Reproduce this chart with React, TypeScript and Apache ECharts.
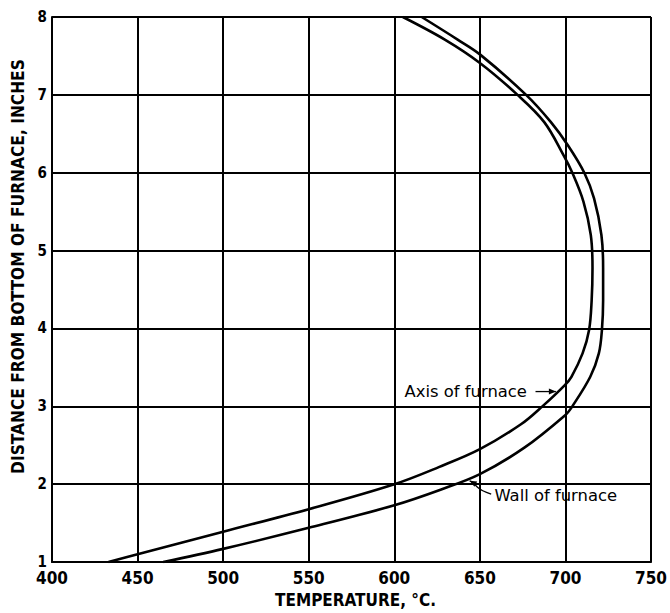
import React, { useEffect, useRef } from "react";
import * as echarts from "echarts";

// Axis ticks
const temperatureTicks = [400, 450, 500, 550, 600, 650, 700, 750];
const distanceTicks = [1, 2, 3, 4, 5, 6, 7, 8];

// Temperature along the axis of the furnace (°C) at each height (inches)
const axisHeights = [1.0, 1.1, 1.39, 1.68, 2.0, 2.22, 2.45, 2.77, 3.0, 3.27, 3.38, 3.68, 3.98, 4.36, 4.78, 5.2, 5.63, 6.0, 6.22, 6.65, 7.0, 7.41, 7.71, 8.0];
const axisTemps = [433, 450, 500, 550, 600, 626, 650, 674, 686.5, 699.5, 703.5, 710, 713.8, 715.3, 715.8, 714.8, 710.5, 704, 699, 687.6, 672, 650, 629.5, 605];

// Temperature at the wall of the furnace (°C) at each height (inches)
const wallHeights = [1.0, 1.17, 1.44, 1.73, 1.93, 2.13, 2.47, 2.89, 3.0, 3.38, 3.68, 3.98, 4.36, 4.78, 5.2, 5.67, 6.0, 6.35, 6.65, 7.0, 7.52, 7.71, 8.0];
const wallTemps = [465, 500, 550, 600, 627, 650, 676, 700, 704, 714.5, 719.5, 721.3, 722, 722, 721, 716.7, 711, 701.5, 691.5, 677, 650, 637, 616];

// Callout anchors in data space [temperature, height]
const axisLabelAnchor = [606, 3.19];
const axisArrowPath = [[682.5, 3.19], [694.4, 3.19]];
const wallLabelAnchor = [658.5, 1.86];
const wallArrowPath = [[656.6, 1.874], [651.7, 1.916], [648.8, 1.958], [645.9, 2.022], [644.0, 2.044]];

const TICK_FONT = "'Liberation Sans Narrow', 'DejaVu Sans Condensed', 'Roboto', sans-serif";
const NOTE_FONT = "'DejaVu Sans', 'Liberation Sans', sans-serif";

function arrowHead(tip: number[], from: number[], len = 7, half = 3) {
  const dx = tip[0] - from[0];
  const dy = tip[1] - from[1];
  const d = Math.hypot(dx, dy) || 1;
  const ux = dx / d, uy = dy / d;
  const bx = tip[0] - ux * len, by = tip[1] - uy * len;
  return [tip, [bx - uy * half, by + ux * half], [bx + uy * half, by - ux * half]];
}

export default function App() {
  const ref = useRef<HTMLDivElement>(null);

  useEffect(() => {
    if (!ref.current) return;
    const chart = echarts.init(ref.current, null, { renderer: "svg" });
    const toPairs = (ts: number[], hs: number[]) => ts.map((t, i) => [t, hs[i]]);

    const lineStyle = { color: "#000", width: 2 };
    chart.setOption({
      animation: false,
      backgroundColor: "#fff",
      grid: { left: 52, right: 16, top: 17, bottom: 46, containLabel: false },
      xAxis: {
        type: "value",
        min: temperatureTicks[0],
        max: temperatureTicks[temperatureTicks.length - 1],
        interval: temperatureTicks[1] - temperatureTicks[0],
        name: "TEMPERATURE, °C.",
        nameLocation: "middle",
        nameGap: 15,
        nameTextStyle: { fontFamily: TICK_FONT, fontWeight: "bold", fontSize: 17, color: "#000", padding: [0, 0, 0, 8] },
        axisLine: { show: true, lineStyle },
        axisTick: { show: false },
        splitLine: { show: true, lineStyle },
        axisLabel: { color: "#000", fontFamily: TICK_FONT, fontWeight: "bold", fontSize: 17, lineHeight: 15, margin: 8 },
      },
      yAxis: {
        type: "value",
        min: distanceTicks[0],
        max: distanceTicks[distanceTicks.length - 1],
        interval: distanceTicks[1] - distanceTicks[0],
        name: "DISTANCE FROM BOTTOM OF FURNACE, INCHES",
        nameLocation: "middle",
        nameGap: 17,
        nameTextStyle: {
          fontFamily: TICK_FONT, fontWeight: "bold", fontSize: 17.2, color: "#000",
          padding: [0, 0, 0, 46],
        },
        axisLine: { show: true, onZero: false, lineStyle },
        axisTick: { show: false },
        splitLine: { show: true, lineStyle },
        axisLabel: {
          color: "#000", fontFamily: TICK_FONT, fontWeight: "bold", fontSize: 15,
          lineHeight: 12, padding: [0, 0, 8, 0], margin: 5,
        },
      },
      series: [
        {
          name: "Axis of furnace",
          type: "line",
          data: toPairs(axisTemps, axisHeights),
          smooth: 0.35,
          showSymbol: false,
          lineStyle: { color: "#000", width: 2.6 },
          z: 5,
        },
        {
          name: "Wall of furnace",
          type: "line",
          data: toPairs(wallTemps, wallHeights),
          smooth: 0.35,
          showSymbol: false,
          lineStyle: { color: "#000", width: 2.6 },
          z: 5,
        },
      ],
    });

    const px = (p: number[]) => chart.convertToPixel({ gridIndex: 0 }, p) as number[];
    const aLab = px(axisLabelAnchor);
    const aPts = axisArrowPath.map(px);
    const wLab = px(wallLabelAnchor);
    const wPts = wallArrowPath.map(px);
    const noteStyle = { fill: "#000", font: `16.4px ${NOTE_FONT}`, textVerticalAlign: "middle", textAlign: "left" };

    chart.setOption({
      graphic: [
        { type: "text", x: aLab[0], y: aLab[1], style: { ...noteStyle, text: "Axis of furnace" }, z: 10 },
        { type: "polyline", shape: { points: aPts }, style: { stroke: "#000", lineWidth: 1.3, fill: null }, z: 10 },
        { type: "polygon", shape: { points: arrowHead(aPts[aPts.length - 1], aPts[aPts.length - 2]) }, style: { fill: "#000" }, z: 10 },
        { type: "text", x: wLab[0], y: wLab[1], style: { ...noteStyle, text: "Wall of furnace" }, z: 10 },
        { type: "polyline", shape: { points: wPts, smooth: 0.4 }, style: { stroke: "#000", lineWidth: 1.3, fill: null }, z: 10 },
        { type: "polygon", shape: { points: arrowHead(wPts[wPts.length - 1], wPts[wPts.length - 2]) }, style: { fill: "#000" }, z: 10 },
      ],
    });

    return () => chart.dispose();
  }, []);

  return (
    <div
      ref={ref}
      style={{ position: "absolute", left: 0, top: 0, width: 670, height: 613, background: "#fff" }}
    />
  );
}
